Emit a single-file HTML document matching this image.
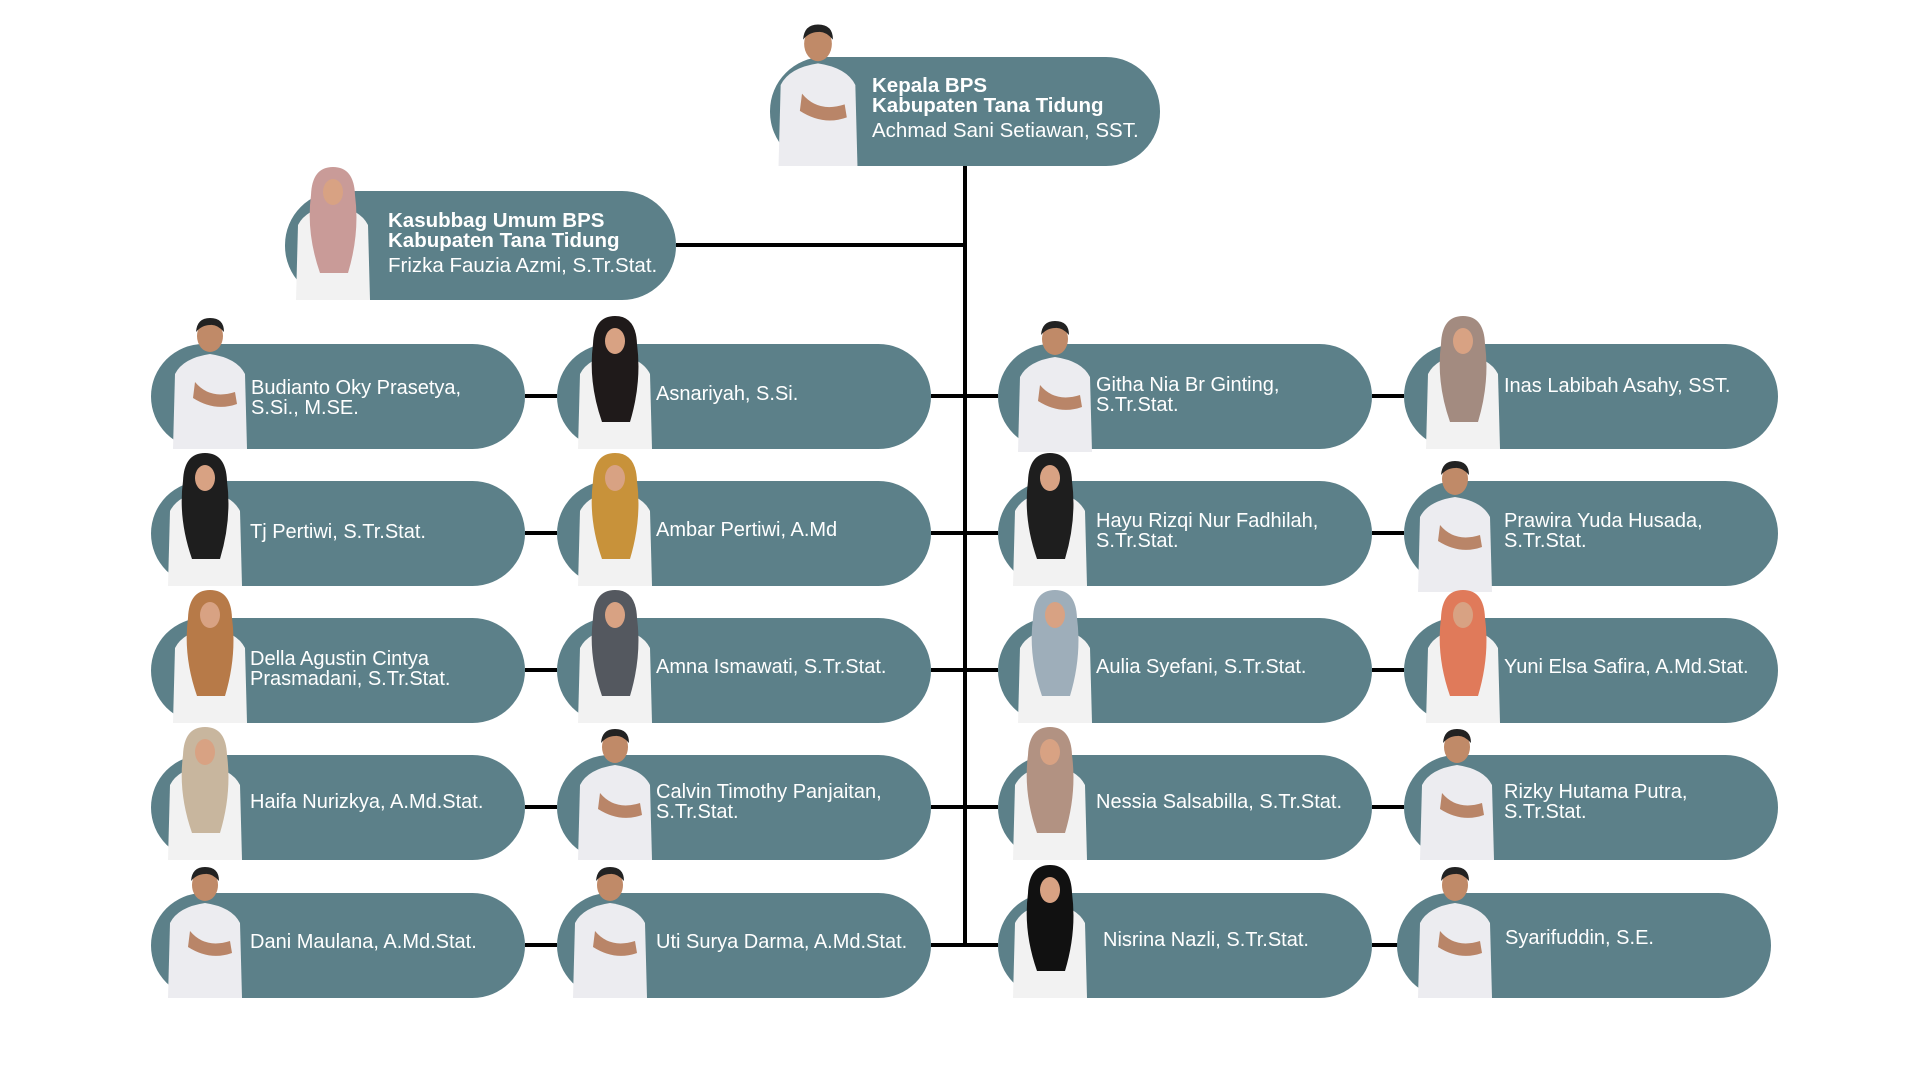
<!DOCTYPE html>
<html><head><meta charset="utf-8"><style>
body{margin:0;width:1920px;height:1080px;background:#fff;position:relative;overflow:hidden;font-family:"Liberation Sans",Arial,sans-serif}
.p{position:absolute;background:#5c8089;border-radius:54px;width:374px;height:105px}
.t{position:absolute;color:#fff;font-size:20px;line-height:20px;white-space:nowrap}
.big{font-size:20.5px}
.ln{position:absolute;background:#000}
svg.ph{position:absolute;width:90px;height:137px}
</style></head><body>
<svg width="0" height="0" style="position:absolute">
<defs>
<symbol id="m" viewBox="0 0 90 137">
<path d="M8 137 L10 62 Q18 46 45 42 Q72 46 80 62 L82 137 Z" fill="#ececf0"/>
<path d="M30 70 Q45 88 70 80 L72 92 Q50 100 28 86Z" fill="#b98568"/>
<ellipse cx="45" cy="24" rx="13" ry="16" fill="#c08a68"/>
<path d="M31 20 Q32 6 45 6 Q59 6 59 20 Q52 12 45 13 Q37 13 31 20Z" fill="#222"/>
</symbol>
<symbol id="h" viewBox="0 0 90 137">
<path d="M8 137 L10 62 Q18 46 45 42 Q72 46 80 62 L82 137 Z" fill="#f2f2f2"/>
<path d="M45 4 Q24 4 23 32 Q18 70 32 110 L60 110 Q72 70 67 32 Q66 4 45 4Z" fill="currentColor"/>
<ellipse cx="45" cy="29" rx="10" ry="13" fill="#d8a283"/>
</symbol>
</defs></svg>

<div class="ln" style="left:963px;top:165px;width:4px;height:782px"></div>
<div class="ln" style="left:676px;top:243px;width:289px;height:4px"></div>
<div class="ln" style="left:525px;top:394px;width:32px;height:4px"></div>
<div class="ln" style="left:525px;top:531px;width:32px;height:4px"></div>
<div class="ln" style="left:525px;top:668px;width:32px;height:4px"></div>
<div class="ln" style="left:525px;top:805px;width:32px;height:4px"></div>
<div class="ln" style="left:525px;top:943px;width:32px;height:4px"></div>
<div class="ln" style="left:931px;top:394px;width:67px;height:4px"></div>
<div class="ln" style="left:931px;top:531px;width:67px;height:4px"></div>
<div class="ln" style="left:931px;top:668px;width:67px;height:4px"></div>
<div class="ln" style="left:931px;top:805px;width:67px;height:4px"></div>
<div class="ln" style="left:931px;top:943px;width:67px;height:4px"></div>
<div class="ln" style="left:1372px;top:394px;width:32px;height:4px"></div>
<div class="ln" style="left:1372px;top:531px;width:32px;height:4px"></div>
<div class="ln" style="left:1372px;top:668px;width:32px;height:4px"></div>
<div class="ln" style="left:1372px;top:805px;width:32px;height:4px"></div>
<div class="ln" style="left:1372px;top:943px;width:28px;height:4px"></div>

<div class="p" style="left:770px;top:57px;width:390px;height:109px"></div>
<svg class="ph" style="left:770px;top:18px;height:148px;width:96px" viewBox="0 0 90 137" preserveAspectRatio="none"><use href="#m"/></svg>
<div class="t big" style="left:872px;top:76px;font-weight:bold">Kepala BPS<br>Kabupaten Tana Tidung</div>
<div class="t big" style="left:872px;top:121px">Achmad Sani Setiawan, SST.</div>

<div class="p" style="left:285px;top:191px;width:391px;height:109px"></div>
<svg class="ph" style="left:288px;top:163px;height:137px;width:90px;color:#c99b98"><use href="#h"/></svg>
<div class="t big" style="left:388px;top:211px;font-weight:bold">Kasubbag Umum BPS<br>Kabupaten Tana Tidung</div>
<div class="t big" style="left:388px;top:256px">Frizka Fauzia Azmi, S.Tr.Stat.</div>

<div class="p" style="left:151px;top:344px"></div>
<svg class="ph" style="left:165px;top:312px"><use href="#m"/></svg>
<div class="t" style="left:251px;top:378px">Budianto Oky Prasetya,<br>S.Si., M.SE.</div>
<div class="p" style="left:151px;top:481px"></div>
<svg class="ph" style="left:160px;top:449px;color:#1e1e1e"><use href="#h"/></svg>
<div class="t" style="left:250px;top:522px">Tj Pertiwi, S.Tr.Stat.</div>
<div class="p" style="left:151px;top:618px"></div>
<svg class="ph" style="left:165px;top:586px;color:#b77a48"><use href="#h"/></svg>
<div class="t" style="left:250px;top:649px">Della Agustin Cintya<br>Prasmadani, S.Tr.Stat.</div>
<div class="p" style="left:151px;top:755px"></div>
<svg class="ph" style="left:160px;top:723px;color:#c8b69e"><use href="#h"/></svg>
<div class="t" style="left:250px;top:792px">Haifa Nurizkya, A.Md.Stat.</div>
<div class="p" style="left:151px;top:893px"></div>
<svg class="ph" style="left:160px;top:861px"><use href="#m"/></svg>
<div class="t" style="left:250px;top:932px">Dani Maulana, A.Md.Stat.</div>

<div class="p" style="left:557px;top:344px"></div>
<svg class="ph" style="left:570px;top:312px;color:#1f1a1a"><use href="#h"/></svg>
<div class="t" style="left:656px;top:384px">Asnariyah, S.Si.</div>
<div class="p" style="left:557px;top:481px"></div>
<svg class="ph" style="left:570px;top:449px;color:#c8923a"><use href="#h"/></svg>
<div class="t" style="left:656px;top:520px">Ambar Pertiwi, A.Md</div>
<div class="p" style="left:557px;top:618px"></div>
<svg class="ph" style="left:570px;top:586px;color:#54585f"><use href="#h"/></svg>
<div class="t" style="left:656px;top:657px">Amna Ismawati, S.Tr.Stat.</div>
<div class="p" style="left:557px;top:755px"></div>
<svg class="ph" style="left:570px;top:723px"><use href="#m"/></svg>
<div class="t" style="left:656px;top:782px">Calvin Timothy Panjaitan,<br>S.Tr.Stat.</div>
<div class="p" style="left:557px;top:893px"></div>
<svg class="ph" style="left:565px;top:861px"><use href="#m"/></svg>
<div class="t" style="left:656px;top:932px">Uti Surya Darma, A.Md.Stat.</div>

<div class="p" style="left:998px;top:344px"></div>
<svg class="ph" style="left:1010px;top:315px"><use href="#m"/></svg>
<div class="t" style="left:1096px;top:375px">Githa Nia Br Ginting,<br>S.Tr.Stat.</div>
<div class="p" style="left:998px;top:481px"></div>
<svg class="ph" style="left:1005px;top:449px;color:#1e1e1e"><use href="#h"/></svg>
<div class="t" style="left:1096px;top:511px">Hayu Rizqi Nur Fadhilah,<br>S.Tr.Stat.</div>
<div class="p" style="left:998px;top:618px"></div>
<svg class="ph" style="left:1010px;top:586px;color:#9eaeba"><use href="#h"/></svg>
<div class="t" style="left:1096px;top:657px">Aulia Syefani, S.Tr.Stat.</div>
<div class="p" style="left:998px;top:755px"></div>
<svg class="ph" style="left:1005px;top:723px;color:#b29282"><use href="#h"/></svg>
<div class="t" style="left:1096px;top:792px">Nessia Salsabilla, S.Tr.Stat.</div>
<div class="p" style="left:998px;top:893px"></div>
<svg class="ph" style="left:1005px;top:861px;color:#111"><use href="#h"/></svg>
<div class="t" style="left:1103px;top:930px">Nisrina Nazli, S.Tr.Stat.</div>

<div class="p" style="left:1404px;top:344px"></div>
<svg class="ph" style="left:1418px;top:312px;color:#a38b80"><use href="#h"/></svg>
<div class="t" style="left:1504px;top:376px">Inas Labibah Asahy, SST.</div>
<div class="p" style="left:1404px;top:481px"></div>
<svg class="ph" style="left:1410px;top:455px"><use href="#m"/></svg>
<div class="t" style="left:1504px;top:511px">Prawira Yuda Husada,<br>S.Tr.Stat.</div>
<div class="p" style="left:1404px;top:618px"></div>
<svg class="ph" style="left:1418px;top:586px;color:#e07a5a"><use href="#h"/></svg>
<div class="t" style="left:1504px;top:657px">Yuni Elsa Safira, A.Md.Stat.</div>
<div class="p" style="left:1404px;top:755px"></div>
<svg class="ph" style="left:1412px;top:723px"><use href="#m"/></svg>
<div class="t" style="left:1504px;top:782px">Rizky Hutama Putra,<br>S.Tr.Stat.</div>
<div class="p" style="left:1397px;top:893px"></div>
<svg class="ph" style="left:1410px;top:861px"><use href="#m"/></svg>
<div class="t" style="left:1505px;top:928px">Syarifuddin, S.E.</div>
</body></html>
